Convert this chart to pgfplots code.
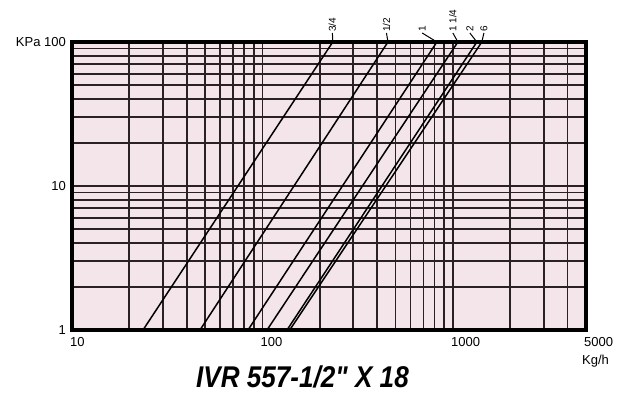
\documentclass[border=0pt]{standalone}
\usepackage{fontspec}
\setmainfont{Liberation Sans}
\newfontfamily\titlefont{Liberation Sans}[Ligatures=TeXOff]
\usepackage{graphicx}
\usepackage{pgfplots}
\pgfplotsset{compat=1.18}
\definecolor{chartpink}{RGB}{243,229,233}
\definecolor{gridc}{RGB}{42,34,34}

\begin{document}
\begin{tikzpicture}
\path[use as bounding box] (-72pt,-63pt) rectangle (564pt,330pt);
\begin{loglogaxis}[
  scale only axis, width=514pt, height=288pt,
  xmin=10, xmax=5000, ymin=1, ymax=100,
  xtick={10,100,1000,5000}, xticklabels={10,100,1000,5000},
  minor xtick={20,30,40,50,60,70,80,90,200,300,400,500,600,700,800,900,2000,3000,4000},
  ytick={1,10,100}, yticklabels={1,10,KPa\ 100},
  minor ytick={2,3,4,5,6,7,8,9,20,30,40,50,60,70,80,90},
  grid=both,
  major grid style={line width=1.7pt, gridc},
  minor grid style={line width=1.7pt, gridc},
  major tick length=0pt, minor tick length=0pt,
  axis line style={draw=none},
  axis background/.style={fill=chartpink},
  clip=false,
  tick label style={font=\fontsize{13}{13}\selectfont, inner sep=0pt},
  xticklabel style={anchor=north west, xshift=-2pt, yshift=-7pt},
  yticklabel style={anchor=east, xshift=-6pt},
]
% 3/4
\addplot[black, line width=1.5pt] coordinates {(23.6,1) (234,100)};
% 1/2
\addplot[black, line width=1.5pt] coordinates {(47,1) (456,100)};
% 1
\addplot[black, line width=1.5pt] coordinates {(84,1) (824,100)};
% 1 1/4
\addplot[black, line width=1.5pt] coordinates {(105.7,1) (1062,100)};
% 2
\addplot[black, line width=1.5pt] coordinates {(134.6,1) (1336,100)};
% 6
\addplot[black, line width=1.5pt] coordinates {(139,1) (1419,100)};

\draw[line width=4.5pt, black] (rel axis cs:0,0) rectangle (rel axis cs:1,1);

% curve labels with short leaders
\draw[line width=1pt] (axis cs:234,100) -- ([yshift=9pt]axis cs:233,100);
\draw[line width=1pt] (axis cs:456,100) -- ([yshift=9pt]axis cs:448,100);
\draw[line width=1pt] (axis cs:824,100) -- ([yshift=9pt]axis cs:690,100);
\draw[line width=1pt] (axis cs:1062,100) -- ([yshift=9pt]axis cs:1000,100);
\draw[line width=1pt] (axis cs:1336,100) -- ([yshift=9pt]axis cs:1228,100);
\draw[line width=1pt] (axis cs:1419,100) -- ([yshift=9pt]axis cs:1455,100);
\begin{scope}[every node/.style={rotate=90, anchor=west, inner sep=0pt, font=\fontsize{10}{10}\selectfont}]
\node at ([yshift=10pt]axis cs:233,100) {3/4};
\node at ([yshift=10pt]axis cs:448,100) {1/2};
\node at ([yshift=10pt]axis cs:690,100) {1};
\node at ([yshift=10pt]axis cs:1000,100) {1 1/4};
\node at ([yshift=10pt]axis cs:1228,100) {2};
\node at ([yshift=10pt]axis cs:1455,100) {6};
\end{scope}

\node[anchor=north west, inner sep=0pt, font=\fontsize{13}{13}\selectfont]
  at ([xshift=-4pt,yshift=-25pt]rel axis cs:1,0) {Kg/h};
\node[inner sep=0pt, font=\titlefont\fontsize{30}{30}\selectfont\bfseries\itshape]
  at ([xshift=230.5pt,yshift=-46.5pt]rel axis cs:0,0) {\scalebox{0.87}[1]{IVR 557-1/2" X 18}};
\end{loglogaxis}
\end{tikzpicture}
\end{document}
